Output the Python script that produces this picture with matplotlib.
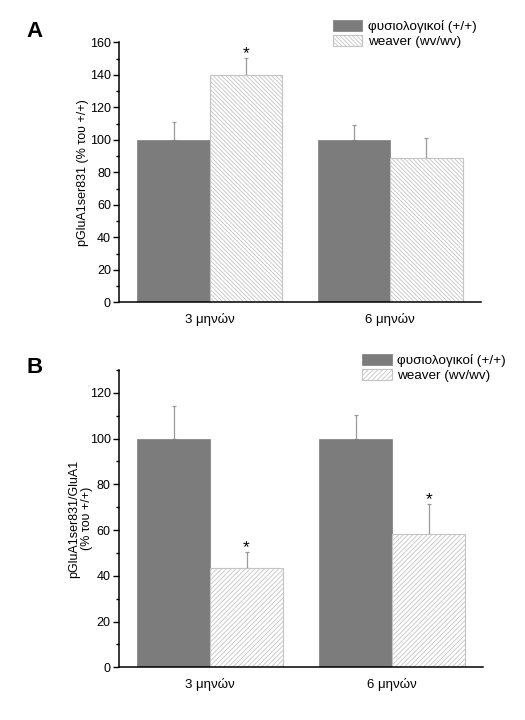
import matplotlib
matplotlib.use("Agg")
import matplotlib.pyplot as plt
from matplotlib.patches import Patch
from matplotlib.ticker import MultipleLocator
import numpy as np

plt.rcParams['font.family'] = ['Liberation Sans', 'DejaVu Sans']
plt.rcParams['hatch.linewidth'] = 0.6

# ---- data ----
groups = ["3 μηνών", "6 μηνών"]
legend_labels = ["φυσιολογικοί (+/+)", "weaver (wv/wv)"]

a_wt = [100, 100]
a_wt_err = [11, 9]
a_wv = [140, 88.6]
a_wv_err = [10.5, 12.3]
a_sig = [True, False]

b_wt = [100, 100]
b_wt_err = [14.3, 10.4]
b_wv = [43.6, 58.1]
b_wv_err = [6.8, 13.4]
b_sig = [True, True]

ylabel_a = "pGluA1ser831 (% του +/+)"
ylabel_b = "pGluA1ser831/GluA1\n(% του +/+)"

dark = "#7c7c7c"
hatch_col = "#c4c4c4"
err_col = "#9a9a9a"

hatch_a = "\\" * 8
hatch_b = "/" * 7

fig = plt.figure(figsize=(5.25, 7.2), dpi=100)
axA = fig.add_axes([0.2273, 0.5801, 0.6883, 0.3612])
axB = fig.add_axes([0.2267, 0.0732, 0.6940, 0.4129])


def draw(ax, wt, wt_err, wv, wv_err, sig, ylim, hatch, ylabel, label_x):
    x = np.arange(1, len(groups) + 1)
    w = 0.4
    ax.bar(x - w / 2, wt, width=w, color=dark, edgecolor=dark, linewidth=0.5, zorder=2)
    ax.bar(x + w / 2, wv, width=w, color="white", edgecolor=hatch_col,
           hatch=hatch, linewidth=0.8, zorder=2)
    ax.errorbar(x - w / 2, wt, yerr=[np.zeros(len(wt)), wt_err], fmt="none",
                ecolor=err_col, elinewidth=0.9, capsize=1.5, capthick=0.9, zorder=1)
    ax.errorbar(x + w / 2, wv, yerr=[np.zeros(len(wv)), wv_err], fmt="none",
                ecolor=err_col, elinewidth=0.9, capsize=1.5, capthick=0.9, zorder=1)
    for xi, v, e, s in zip(x, wv, wv_err, sig):
        if s:
            ax.annotate("*", xy=(xi + w / 2, v + e), xytext=(0, 0),
                        textcoords="offset pixels", ha="center", va="baseline",
                        fontsize=12.5, color="black")
    ax.set_xlim(0.5, 2.5)
    ax.set_ylim(*ylim)
    ax.set_xticks(x)
    ax.set_xticklabels(groups, fontsize=9.5)
    ax.tick_params(axis="x", length=0, pad=8)
    ax.yaxis.set_major_locator(MultipleLocator(20))
    ax.yaxis.set_minor_locator(MultipleLocator(10))
    ax.tick_params(axis="y", which="major", length=4, width=1, labelsize=9, pad=2, colors="black")
    ax.tick_params(axis="y", which="minor", length=2, width=1)
    for sp in ["top", "right"]:
        ax.spines[sp].set_visible(False)
    for sp in ["left", "bottom"]:
        ax.spines[sp].set_linewidth(1.1)
    ax.set_ylabel(ylabel, fontsize=9, linespacing=1.1)
    ax.yaxis.set_label_coords(label_x, 0.5)


draw(axA, a_wt, a_wt_err, a_wv, a_wv_err, a_sig, (0, 160), hatch_a, ylabel_a, -0.085)
draw(axB, b_wt, b_wt_err, b_wv, b_wv_err, b_sig, (0, 130), hatch_b, ylabel_b, -0.072)

# legends
def add_legend(hatch, anchor):
    handles = [Patch(facecolor=dark, edgecolor=dark, linewidth=0.5),
               Patch(facecolor="white", edgecolor=hatch_col, hatch=hatch, linewidth=0.8)]
    fig.legend(handles, legend_labels, loc="upper left", bbox_to_anchor=anchor,
               frameon=False, fontsize=9.7, handlelength=2.2, handleheight=0.85,
               handletextpad=0.4, labelspacing=0.15, borderpad=0, borderaxespad=0)

add_legend(hatch_a, (0.634, 0.972))
add_legend(hatch_b, (0.6895, 0.508))

fig.text(0.051, 0.9486, "A", fontsize=16, fontweight="bold", ha="left", va="baseline")
fig.text(0.051, 0.482, "B", fontsize=16, fontweight="bold", ha="left", va="baseline")

fig.savefig("out.png", dpi=100, facecolor="white")
